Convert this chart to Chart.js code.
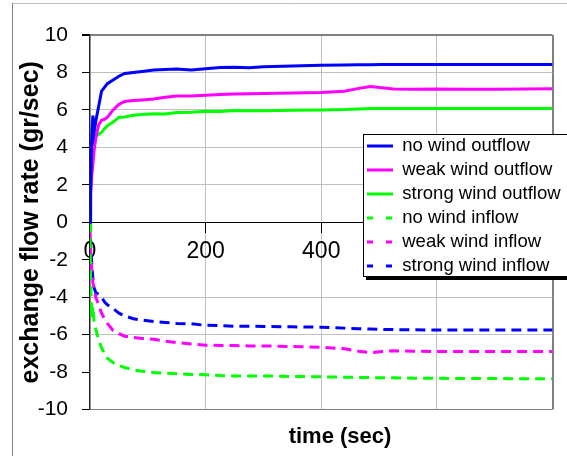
<!DOCTYPE html>
<html>
<head>
<meta charset="utf-8">
<script src="https://cdn.jsdelivr.net/npm/chart.js@4/dist/chart.umd.min.js"></script>
<style>
    body { margin: 0; background: #ffffff; }
</style>
</head>
<body>
<canvas id="flowChart" width="567" height="456"></canvas>
<script>
const times = [0, 1, 3, 5, 7, 10, 15, 20, 25, 30, 40, 50, 60, 75, 90, 110, 130, 150, 175, 200, 225, 250, 275, 300, 350, 400, 440, 465, 485, 505, 525, 560, 600, 650, 700, 750, 800];

const noWindOutflow = [0, 1.5, 4.5, 5.7, 4.8, 5.4, 6.2, 7.0, 7.2, 7.4, 7.6, 7.8, 7.95, 8.0, 8.05, 8.13, 8.16, 8.18, 8.13, 8.2, 8.26, 8.28, 8.25, 8.3, 8.35, 8.38, 8.4, 8.41, 8.41, 8.42, 8.42, 8.42, 8.42, 8.42, 8.42, 8.42, 8.42];
const weakWindOutflow = [0.5, 1.5, 2.5, 3.1, 3.8, 4.5, 5.2, 5.45, 5.5, 5.6, 6.0, 6.3, 6.45, 6.5, 6.53, 6.58, 6.68, 6.74, 6.74, 6.78, 6.82, 6.85, 6.86, 6.88, 6.9, 6.93, 7.0, 7.15, 7.25, 7.18, 7.12, 7.1, 7.12, 7.11, 7.1, 7.12, 7.13];
const strongWindOutflow = [-0.4, 2.0, 3.2, 3.8, 4.3, 4.6, 4.7, 4.8, 5.0, 5.15, 5.35, 5.6, 5.62, 5.72, 5.75, 5.8, 5.78, 5.86, 5.88, 5.93, 5.92, 5.97, 5.95, 5.96, 5.98, 6.0, 6.02, 6.05, 6.07, 6.08, 6.08, 6.08, 6.08, 6.08, 6.08, 6.08, 6.08];
const noWindInflow = [0, -3.0, -5.1, -4.5, -5.3, -5.7, -6.3, -6.7, -7.0, -7.25, -7.5, -7.65, -7.75, -7.88, -7.95, -8.02, -8.06, -8.08, -8.12, -8.14, -8.18, -8.2, -8.2, -8.2, -8.23, -8.25, -8.27, -8.28, -8.29, -8.3, -8.3, -8.32, -8.33, -8.34, -8.34, -8.35, -8.36];
const weakWindInflow = [-0.4, -1.5, -2.5, -3.2, -3.6, -4.0, -4.4, -4.85, -5.15, -5.4, -5.78, -5.95, -6.08, -6.15, -6.2, -6.24, -6.35, -6.42, -6.5, -6.56, -6.58, -6.58, -6.6, -6.6, -6.63, -6.67, -6.75, -6.88, -6.96, -6.9, -6.86, -6.88, -6.9, -6.9, -6.9, -6.9, -6.9];
const strongWindInflow = [0, -1.0, -2.2, -3.0, -3.5, -3.75, -3.85, -4.0, -4.25, -4.4, -4.6, -4.85, -5.0, -5.15, -5.22, -5.3, -5.35, -5.4, -5.42, -5.5, -5.52, -5.55, -5.55, -5.56, -5.58, -5.6, -5.65, -5.68, -5.7, -5.72, -5.73, -5.74, -5.75, -5.75, -5.75, -5.75, -5.75];

const seriesLabels = ["no wind outflow", "weak wind outflow", "strong wind outflow", "no wind inflow", "weak wind inflow", "strong wind inflow"];
const yTicks = [-10, -8, -6, -4, -2, 0, 2, 4, 6, 8, 10];
const xTicks = [0, 200, 400, 600, 800];

const FONT = "'Liberation Sans', Arial, sans-serif";

function points(values) {
    return times.map((t, i) => ({ x: t, y: values[i] }));
}

function series(label, values, color, dashed) {
    return {
        label: label,
        data: points(values),
        borderColor: color,
        backgroundColor: color,
        borderWidth: 3,
        borderDash: dashed ? [10, 6] : [],
        pointRadius: 0,
        tension: 0,
        fill: false
    };
}

// frame lines, and a legend box drawn over the plot like the Excel one
const framePlugin = {
    id: "frame",

    afterLayout: (chart) => {
        const lg = chart.legend;
        lg.left = 361.5;
        lg.top = 131.25;
        lg.right = 567;
        lg.bottom = 320;
        lg.width = lg.right - lg.left;
        lg.height = lg.bottom - lg.top;

        const tb = chart.titleBlock;
        tb.left = 113;
        tb.right = 567;
        tb.width = tb.right - tb.left;
    },

    afterDraw: (chart) => {
        const ctx = chart.ctx;
        ctx.save();
        ctx.lineWidth = 1;
        ctx.strokeStyle = "#c0c0c0";
        ctx.beginPath();
        ctx.moveTo(12, 3.5);
        ctx.lineTo(567, 3.5);
        ctx.stroke();
        ctx.strokeStyle = "#808080";
        ctx.beginPath();
        ctx.moveTo(12.5, 3);
        ctx.lineTo(12.5, 456);
        ctx.stroke();

        ctx.fillStyle = "#000000";
        ctx.fillRect(366, 137, 210, 143);
        ctx.fillStyle = "#ffffff";
        ctx.fillRect(363, 134, 210, 143);
        ctx.strokeStyle = "#000000";
        ctx.lineWidth = 1;
        ctx.strokeRect(363.5, 134.5, 210, 142);
        ctx.restore();
        chart.legend.draw();
    }
};

new Chart(document.getElementById("flowChart"), {
    type: "line",

    data: {
        datasets: [
            series(seriesLabels[0], noWindOutflow, "#0000ff", false),
            series(seriesLabels[1], weakWindOutflow, "#ff00ff", false),
            series(seriesLabels[2], strongWindOutflow, "#00ff00", false),
            series(seriesLabels[3], noWindInflow, "#00ff00", true),
            series(seriesLabels[4], weakWindInflow, "#ff00ff", true),
            series(seriesLabels[5], strongWindInflow, "#0000ff", true)
        ]
    },

    options: {
        responsive: false,
        animation: false,
        devicePixelRatio: 1,

        layout: {
            padding: { left: 12, top: 35, right: 14.5, bottom: 0 }
        },

        plugins: {
            legend: {
                position: "chartArea",
                align: "start",
                labels: {
                    usePointStyle: true,
                    pointStyle: "line",
                    pointStyleWidth: 26,
                    padding: 5.5,
                    color: "#000000",
                    font: { family: FONT, size: 18.5 },
                    generateLabels: (chart) => {
                        const items = Chart.defaults.plugins.legend.labels.generateLabels(chart);
                        items.forEach((item) => {
                            const ds = chart.data.datasets[item.datasetIndex];
                            item.lineWidth = 3;
                            item.lineDash = ds.borderDash.length ? [6, 13] : [];
                        });
                        return items;
                    }
                }
            },

            title: {
                display: true,
                position: "bottom",
                text: "time (sec)",
                color: "#000000",
                font: { family: FONT, size: 22, weight: "bold" },
                padding: { top: 14, bottom: 6 }
            },

            tooltip: { enabled: false }
        },

        scales: {

            x: {
                type: "linear",
                position: { y: 0 },
                min: 0,
                max: 800,
                afterBuildTicks: (scale) => {
                    scale.ticks = xTicks.map(v => ({ value: v }));
                },
                afterFit: (scale) => {
                    scale.paddingLeft = 0;
                    scale.paddingRight = 0;
                },
                ticks: {
                    color: "#000000",
                    padding: 6,
                    maxRotation: 0,
                    font: { family: FONT, size: 23 }
                },
                grid: {
                    color: (c) => {
                        if (c.tick.value === 0) return "rgba(0,0,0,0)";
                        if (c.tick.value === 800) return "#808080";
                        return "#c0c0c0";
                    },
                    lineWidth: (c) => c.tick.value === 800 ? 2 : 1,
                    tickColor: "#000000",
                    tickLength: 10
                },
                border: {
                    color: "#000000",
                    width: 1
                }
            },

            y: {
                type: "linear",
                position: "left",
                min: -10,
                max: 10,
                afterBuildTicks: (scale) => {
                    scale.ticks = yTicks.map(v => ({ value: v }));
                },
                afterFit: (scale) => {
                    scale.width = 78;
                },
                ticks: {
                    color: "#000000",
                    padding: 14,
                    font: { family: FONT, size: 21 }
                },
                grid: {
                    color: (c) => {
                        const v = c.tick.value;
                        if (v === 0) return "#000000";
                        if (v === 10 || v === -10) return "#808080";
                        if (v === -2 || v === -8) return "rgba(0,0,0,0)";
                        return "#c0c0c0";
                    },
                    lineWidth: (c) => c.tick.value === 10 ? 2 : 1,
                    tickColor: "#000000",
                    tickLength: 8
                },
                border: {
                    color: "#222222",
                    width: 1.5
                },
                title: {
                    display: true,
                    text: "exchange flow rate (gr/sec)",
                    color: "#000000",
                    font: { family: FONT, size: 25, weight: "bold" },
                    padding: { top: 4, bottom: 0 }
                }
            }
        }
    },

    plugins: [framePlugin]
});
</script>
</body>
</html>
